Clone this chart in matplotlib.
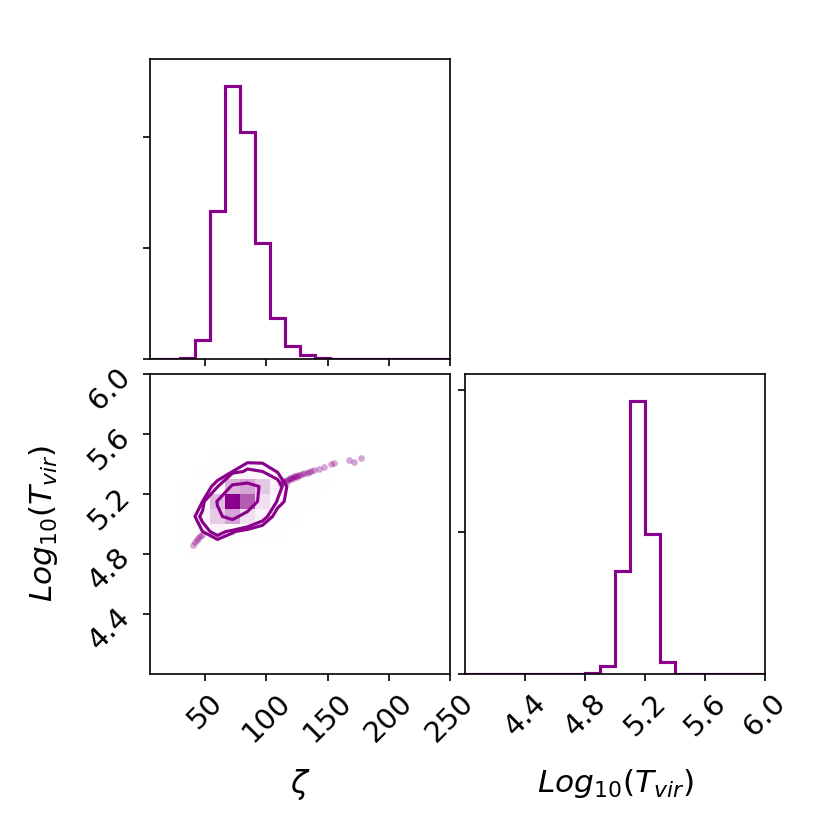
import matplotlib

matplotlib.use("Agg")  # headless
import matplotlib.pyplot as plt
import numpy as np
from matplotlib.colors import LinearSegmentedColormap, ListedColormap

COLOR = "darkmagenta"

# parameter ranges (20 bins each)
zeta_range = (5.0, 250.0)
tvir_range = (4.0, 6.0)
n_bins = 20

# marginal histogram counts
zeta_counts = [0, 1, 12, 348, 2660, 4912, 4084, 2090, 739, 228,
               66, 18, 8, 4, 2, 1, 0, 0, 0, 0]
tvir_counts = [0, 0, 0, 0, 0, 0, 0, 0, 19, 235,
               2911, 7671, 3925, 347, 9, 0, 0, 0, 0, 0]

# 2D density (relative), rows = Log10(Tvir) bins 8..14, cols = zeta bins 1..14
density_row0 = 8
density_col0 = 1
density = [
    [0, 3, 3, 1, 1, 0, 0, 0, 0, 0, 0, 0, 0, 0],
    [0, 2, 10, 20, 11, 6, 3, 1, 0, 0, 0, 0, 0, 0],
    [0, 2, 18, 45, 60, 35, 20, 5, 1, 0, 0, 0, 0, 0],
    [0, 3, 10, 52, 100, 80, 35, 14, 5, 1, 0, 0, 0, 0],
    [0, 1, 4, 14, 55, 60, 47, 20, 4, 2, 1, 0, 0, 0],
    [0, 0, 2, 4, 10, 17, 15, 9.5, 5, 3, 1, 0, 0, 0],
    [0, 0, 0, 1, 3, 5, 6, 3, 2, 1, 0, 0, 0, 0],
]
contour_levels = [10, 15, 50]

# samples outside the contours (the two tails)
tail_zeta = [40.5, 42.0, 43.5, 44.6, 46.0, 47.3,
             112.0, 113.5, 114.0, 115.6, 117.0, 117.0, 118.5, 119.0, 120.0,
             121.0, 122.4, 123.0, 124.0, 125.0, 126.0, 127.5, 129.3, 131.0,
             133.0, 134.7, 136.5, 138.8, 142.9, 147.0, 152.5, 155.2,
             167.5, 171.6, 177.0]
tail_tvir = [4.862, 4.878, 4.893, 4.905, 4.918, 4.929,
             5.270, 5.278, 5.288, 5.285, 5.292, 5.283, 5.300, 5.309, 5.305,
             5.302, 5.314, 5.318, 5.320, 5.316, 5.326, 5.330, 5.334, 5.338,
             5.343, 5.347, 5.352, 5.358, 5.367, 5.381, 5.397, 5.408,
             5.425, 5.415, 5.441]

zeta_ticks = [50, 100, 150, 200, 250]
tvir_ticks = [4.4, 4.8, 5.2, 5.6, 6.0]

xe = np.linspace(zeta_range[0], zeta_range[1], n_bins + 1)
ye = np.linspace(tvir_range[0], tvir_range[1], n_bins + 1)
xc = 0.5 * (xe[1:] + xe[:-1])
yc = 0.5 * (ye[1:] + ye[:-1])

H = np.zeros((n_bins, n_bins))
dens = np.array(density, dtype=float)
H[density_row0:density_row0 + dens.shape[0],
  density_col0:density_col0 + dens.shape[1]] = dens

fig = plt.figure(figsize=(5.5, 5.5), dpi=150)
w = 300 / 825
ax_top = fig.add_axes([150 / 825, 1 - 359 / 825, w, w])
ax_2d = fig.add_axes([150 / 825, 1 - 674 / 825, w, w])
ax_right = fig.add_axes([465 / 825, 1 - 674 / 825, w, w])

# top: zeta marginal
ax_top.stairs(zeta_counts, xe, color=COLOR, lw=1.5)
ax_top.set_xlim(*zeta_range)
ax_top.set_ylim(0, 1.1 * max(zeta_counts))
ax_top.set_xticks(zeta_ticks)
ax_top.set_xticklabels([])
ax_top.set_yticks([0, 2000, 4000])
ax_top.set_yticklabels([])

# right: Tvir marginal
ax_right.stairs(tvir_counts, ye, color=COLOR, lw=1.5)
ax_right.set_xlim(*tvir_range)
ax_right.set_ylim(0, 1.1 * max(tvir_counts))
ax_right.set_xticks(tvir_ticks)
ax_right.set_yticks([0, 4000, 8000])
ax_right.set_yticklabels([])

# 2D panel, corner-style
white_cmap = ListedColormap(["white", "white"])
density_cmap = LinearSegmentedColormap.from_list(
    "density_cmap", [COLOR, (1, 1, 1, 0)])
ax_2d.plot(tail_zeta, tail_tvir, "o", color=COLOR, ms=3.2, mec="none", alpha=0.35)
ax_2d.contourf(xc, yc, H, [min(contour_levels), H.max()],
               cmap=white_cmap, antialiased=False)
ax_2d.pcolormesh(xe, ye, H.max() - H, cmap=density_cmap, shading="flat")
ax_2d.contour(xc, yc, H, contour_levels, colors=COLOR, linewidths=1.5)
ax_2d.set_xlim(*zeta_range)
ax_2d.set_ylim(*tvir_range)
ax_2d.set_xticks(zeta_ticks)
ax_2d.set_yticks(tvir_ticks)

for ax in (ax_2d, ax_right):
    ax.tick_params(labelsize=14)
    for lab in ax.get_xticklabels():
        lab.set_rotation(45)
for lab in ax_2d.get_yticklabels():
    lab.set_rotation(45)

ax_2d.set_xlabel(r"$\zeta$", fontsize=15)
ax_2d.set_ylabel(r"$Log_{10}(T_{vir})$", fontsize=15)
ax_right.set_xlabel(r"$Log_{10}(T_{vir})$", fontsize=15)
ax_2d.xaxis.set_label_coords(0.5, -0.31)
ax_right.xaxis.set_label_coords(0.5, -0.31)
ax_2d.yaxis.set_label_coords(-0.30, 0.5)

fig.savefig("out.png", dpi=150)
plt.close(fig)
